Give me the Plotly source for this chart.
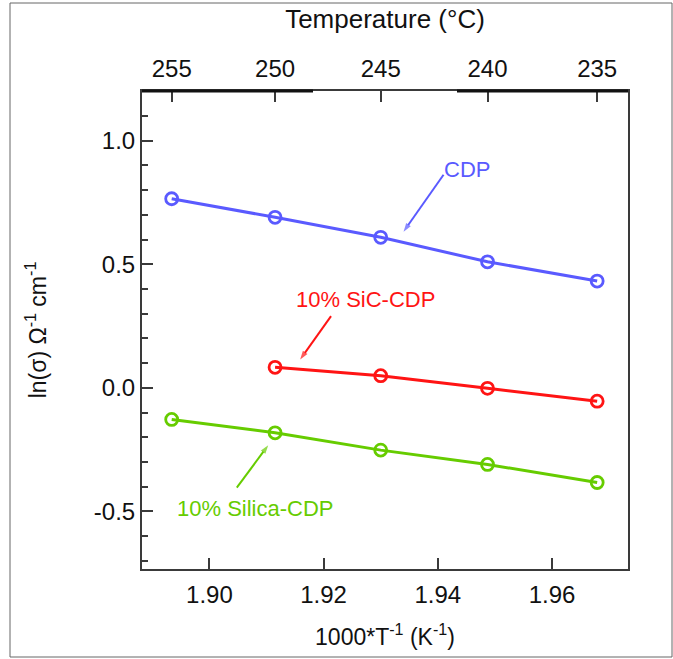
import plotly.graph_objects as go

# Inverse temperature (1000/T, K^-1) and the matching temperatures (°C)
inv_temp = [1.8934, 1.9115, 1.9300, 1.9487, 1.9679]
temp_c = [255, 250, 245, 240, 235]

# ln(conductivity) for each sample
cdp = [0.765, 0.690, 0.609, 0.510, 0.432]
sic_x = [1.9115, 1.9300, 1.9487, 1.9679]
sic_cdp = [0.083, 0.049, -0.002, -0.054]
silica_cdp = [-0.128, -0.182, -0.252, -0.310, -0.383]

BLUE = "#5a5aff"
RED = "#ff1414"
GREEN = "#66cc00"
FONT = "Liberation Sans, Arial, sans-serif"

W, H = 673, 659
L, R, T, B = 142, 45, 91, 90
XR = [1.8882, 1.9733]
YR = [-0.733, 1.201]

fig = go.Figure()


def series(x, y, color):
    fig.add_trace(go.Scatter(
        x=x, y=y, mode="lines+markers",
        line=dict(color=color, width=3),
        marker=dict(symbol="circle-open", size=12, color=color,
                    line=dict(color=color, width=2.8)),
        showlegend=False, cliponaxis=False,
    ))


series(inv_temp, cdp, BLUE)
series(sic_x, sic_cdp, RED)
series(inv_temp, silica_cdp, GREEN)

# series labels, each with a thin pointer toward its line
labels = [
    # text, colour, text x, text y, pointer tail (x, y), pointer tip (x, y)
    ("CDP", BLUE, 1.9407, 0.885, (1.9410, 0.862), (1.9340, 0.632)),
    ("10% SiC-CDP", RED, 1.9149, 0.358, (1.9213, 0.290), (1.9159, 0.115)),
    ("10% Silica-CDP", GREEN, 1.8940, -0.487, (1.9048, -0.404), (1.9103, -0.232)),
]
for text, color, tx, ty, tail, tip in labels:
    fig.add_trace(go.Scatter(
        x=[tail[0], tip[0]], y=[tail[1], tip[1]], mode="lines+markers",
        line=dict(color=color, width=2),
        marker=dict(symbol="arrow", angleref="previous", size=[0, 9],
                    color=color, line=dict(width=0)),
        showlegend=False, hoverinfo="skip", cliponaxis=False,
    ))
    fig.add_annotation(x=tx, y=ty, text=text, showarrow=False,
                       xanchor="left", yanchor="middle",
                       font=dict(family=FONT, size=22, color=color))

# dummy trace to activate the top temperature axis
fig.add_trace(go.Scatter(x=[inv_temp[0]], y=[cdp[0]], xaxis="x2",
                         mode="markers", marker=dict(opacity=0),
                         showlegend=False, hoverinfo="skip"))

tickfont = dict(family=FONT, size=24, color="#111111")
axcol = "#3a3a3a"

fig.update_layout(
    width=W, height=H,
    margin=dict(l=L, r=R, t=T, b=B),
    paper_bgcolor="white", plot_bgcolor="white",
    xaxis=dict(
        range=XR, showgrid=False, zeroline=False,
        showline=True, linecolor=axcol, linewidth=2, mirror=False,
        ticks="inside", ticklen=11, tickwidth=1.5, tickcolor=axcol,
        tickvals=[1.90, 1.92, 1.94, 1.96], ticktext=["1.90", "1.92", "1.94", "1.96"],
        tickfont=tickfont, ticklabelstandoff=3,
        title=dict(text="1000*T<sup>-1</sup> (K<sup>-1</sup>)",
                   font=dict(family=FONT, size=23, color="#111111"), standoff=22),
    ),
    xaxis2=dict(
        range=XR, overlaying="x", side="top", showgrid=False, zeroline=False,
        showline=True, linecolor=axcol, linewidth=1.5,
        ticks="inside", ticklen=11, tickwidth=1.5, tickcolor=axcol,
        tickvals=inv_temp, ticktext=[str(t) for t in temp_c],
        tickfont=tickfont, ticklabelstandoff=3,
        title=dict(text="Temperature (°C)",
                   font=dict(family=FONT, size=26, color="#111111"), standoff=19),
    ),
    yaxis=dict(
        range=YR, showgrid=False, zeroline=False,
        showline=True, linecolor=axcol, linewidth=2, mirror=True,
        ticks="inside", ticklen=11, tickwidth=1.5, tickcolor=axcol,
        tickvals=[-0.5, 0.0, 0.5, 1.0], ticktext=["-0.5", "0.0", "0.5", "1.0"],
        tickfont=tickfont,
        minor=dict(dtick=0.1, tick0=0, ticks="inside", ticklen=6,
                   tickwidth=1.5, tickcolor=axcol),
        title=dict(text="ln(σ) Ω<sup>-1</sup> cm<sup>-1</sup>",
                   font=dict(family=FONT, size=23, color="#111111"), standoff=41),
    ),
)


def px_to_paper(px, py):
    return (px - L) / (W - L - R), (H - B - py) / (H - T - B)


# outer frame around the whole figure
fx0, fy1 = px_to_paper(10, 3)
fx1, fy0 = px_to_paper(672, 657)
fig.add_shape(type="rect", xref="paper", yref="paper",
              x0=fx0, x1=fx1, y0=fy0, y1=fy1,
              line=dict(color="#666666", width=1))

# heavier segments along the top axis line
for a, b in [(142, 313), (457, 628)]:
    sx0, sy = px_to_paper(a, 91)
    sx1, _ = px_to_paper(b, 91)
    fig.add_shape(type="line", xref="paper", yref="paper",
                  x0=sx0, x1=sx1, y0=sy, y1=sy,
                  line=dict(color="#111111", width=3))

fig.write_html("out.html")
